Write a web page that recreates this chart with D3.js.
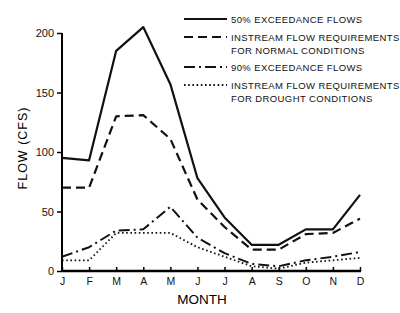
<!DOCTYPE html>
<html>
<head>
<meta charset="utf-8">
<script src="https://cdn.jsdelivr.net/npm/d3@7"></script>
<style>
  body { margin: 0; background: #fff; }
  svg { font-family: "Liberation Sans", Arial, sans-serif; }
</style>
</head>
<body>
<script>
// month labels along the bottom
const months = ['J', 'F', 'M', 'A', 'M', 'J', 'J', 'A', 'S', 'O', 'N', 'D'];

// series (cfs)
const exceed50 = [95, 93, 185, 205, 157, 78, 45, 22, 22, 35, 35, 64];
const normalReq = [70, 70, 130, 131, 111, 60, 37, 18, 18, 31, 32, 44];
const exceed90 = [12, 20, 34, 35, 54, 28, 15, 6, 4, 9, 12, 16];
const droughtReq = [9, 9, 32, 32, 32, 20, 12, 4, 2, 7, 9, 11];

const yTicks = [0, 50, 100, 150, 200];

const legendLines = [
  ['50% EXCEEDANCE FLOWS'],
  ['INSTREAM FLOW REQUIREMENTS', 'FOR NORMAL CONDITIONS'],
  ['90% EXCEEDANCE FLOWS'],
  ['INSTREAM FLOW REQUIREMENTS', 'FOR DROUGHT CONDITIONS']
];

const series = [
  { values: exceed50, dash: null, width: 2.2 },
  { values: normalReq, dash: '9,5', width: 2.2 },
  { values: exceed90, dash: '11,4,2,4', width: 2 },
  { values: droughtReq, dash: '1.6,2.6', width: 1.8 }
];

let width = 400,
  height = 313;

let svg = d3.select('body').append('svg')
  .attr('width', width)
  .attr('height', height);

let x = d3.scalePoint()
  .domain(d3.range(months.length))
  .range([62, 360]);

let y = d3.scaleLinear()
  .domain([0, 200])
  .range([271, 33]);

// y axis
let yAxis = svg.append('g')
  .attr('transform', 'translate(62,0)')
  .call(d3.axisLeft(y).tickValues(yTicks).tickSize(5).tickPadding(3));
yAxis.select('.domain').attr('stroke-width', 2).attr('d', 'M0,' + y(0) + 'V' + y(200));
yAxis.selectAll('.tick line').attr('stroke-width', 1.5);
yAxis.selectAll('.tick text').attr('font-size', 11).attr('fill', '#111');

// x axis, ticks pointing up
let xAxis = svg.append('g')
  .attr('transform', 'translate(0,' + y(0) + ')')
  .call(d3.axisBottom(x).tickFormat(i => months[i]).tickSize(-4).tickPadding(7));
xAxis.select('.domain').attr('stroke-width', 2.5).attr('d', 'M62,0H361');
xAxis.selectAll('.tick line').attr('stroke-width', 1.5);
xAxis.selectAll('.tick text').attr('font-size', 10.5).attr('fill', '#111');

// axis titles
svg.append('text')
  .attr('transform', 'translate(27,148) rotate(-90)')
  .attr('text-anchor', 'middle')
  .attr('font-size', 12.5)
  .attr('letter-spacing', 1)
  .text('FLOW (CFS)');

svg.append('text')
  .attr('x', 202)
  .attr('y', 304)
  .attr('text-anchor', 'middle')
  .attr('font-size', 13.5)
  .text('MONTH');

// the lines
let line = d3.line()
  .x((d, i) => x(i))
  .y(d => y(d));

svg.selectAll('path.series')
  .data(series)
  .enter()
  .append('path')
  .attr('class', 'series')
  .attr('d', d => line(d.values))
  .attr('fill', 'none')
  .attr('stroke', '#111')
  .attr('stroke-width', d => d.width)
  .attr('stroke-dasharray', d => d.dash)
  .attr('stroke-linejoin', 'round');

// legend
const legendY = [19, 37, 67, 85];
let legend = svg.selectAll('g.legend')
  .data(series)
  .enter()
  .append('g')
  .attr('class', 'legend')
  .attr('transform', (d, i) => 'translate(0,' + legendY[i] + ')');

legend.append('line')
  .attr('x1', 184).attr('x2', 227)
  .attr('stroke', '#111')
  .attr('stroke-width', d => d.width)
  .attr('stroke-dasharray', d => d.dash);

legend.each(function(d, i) {
  legendLines[i].forEach((t, k) => {
    d3.select(this).append('text')
      .attr('x', 231)
      .attr('y', 3.5 + k * 13)
      .attr('font-size', 9.5)
      .attr('letter-spacing', 0.4)
      .attr('fill', '#111')
      .text(t);
  });
});
</script>
</body>
</html>
